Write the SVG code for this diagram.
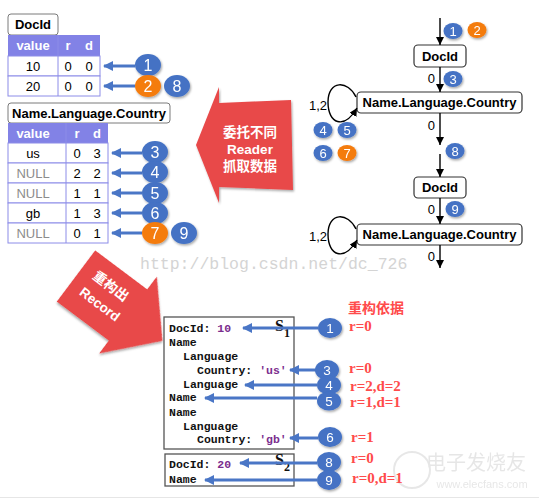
<svg xmlns="http://www.w3.org/2000/svg" width="539" height="499" viewBox="0 0 539 499">
<style>
.lbl{fill:#fff;stroke:#7a7a7a;stroke-width:1}
.lt{font-family:"Liberation Sans",Arial,sans-serif;font-weight:bold;font-size:13px;fill:#000;text-anchor:middle}
.hd{fill:#8282e6}
.ht{font-family:"Liberation Sans",Arial,sans-serif;font-weight:bold;font-size:13px;fill:#fff;text-anchor:middle}
.cell{fill:#fff;stroke:#8c8ce8;stroke-width:1}
.ct{font-family:"Liberation Sans",Arial,sans-serif;font-size:13px;fill:#000;text-anchor:middle}
.nul{fill:#8c8c8c}
.cb{fill:#4472c4}
.co{fill:#f47b10}
.nt{font-family:"Liberation Sans",Arial,sans-serif;font-size:16px;fill:#fff;text-anchor:middle}
.nm{font-family:"Liberation Sans",Arial,sans-serif;font-size:13.5px;fill:#fff;text-anchor:middle}
.ns{font-family:"Liberation Sans",Arial,sans-serif;font-size:13px;fill:#fff;text-anchor:middle}
.ba{stroke:#4a76c6;stroke-width:3;fill:none;marker-end:url(#ab)}
.node{fill:#fff;stroke:#333;stroke-width:1.2}
.ka{stroke:#000;stroke-width:1.4;fill:none;marker-end:url(#ak)}
.gl{font-family:"Liberation Sans",Arial,sans-serif;font-size:13px;fill:#000}
.red{fill:#e8494a}
.rt{font-family:"Liberation Sans","Noto Sans CJK SC",sans-serif;font-weight:bold;font-size:13.5px;fill:#fff;text-anchor:middle}
.rec{fill:#fff;stroke:#555;stroke-width:1.3}
.mono{font-family:"Liberation Mono","Courier New",monospace;font-weight:bold;font-size:11.5px;fill:#111;white-space:pre}
.pu{fill:#7b2d8e}
.rr{font-family:"Liberation Serif","Times New Roman",serif;font-weight:bold;font-size:15px;fill:#ff4b4b}
.s{font-family:"Liberation Serif","Times New Roman",serif;font-weight:bold;fill:#111}
</style>
<defs>
<marker id="ab" markerUnits="userSpaceOnUse" markerWidth="11" markerHeight="10" refX="9" refY="5" orient="auto">
<path d="M0,0 L10,5 L0,10 z" fill="#4a76c6"/>
</marker>
<marker id="ak" markerUnits="userSpaceOnUse" markerWidth="9" markerHeight="8" refX="8" refY="4" orient="auto">
<path d="M0,0 L8,4 L0,8 z" fill="#000"/>
</marker>
<filter id="sh" x="-30%" y="-30%" width="160%" height="160%">
<feDropShadow dx="1" dy="1.5" stdDeviation="1" flood-opacity="0.35"/>
</filter>
</defs>

<!-- watermarks -->
<text x="140" y="269" font-family="Liberation Mono, monospace" font-size="16.5" fill="#d4d4d4">http://blog.csdn.net/dc_726</text>
<g id="elecfans" opacity="0.5">
<circle cx="412" cy="470" r="18" fill="none" stroke="#d0d0d0" stroke-width="2"/>
<text x="476" y="470" font-family="Noto Sans CJK SC, sans-serif" font-size="20" fill="#cfcfcf" text-anchor="middle">电子发烧友</text>
<text x="482" y="488" font-family="Liberation Sans, sans-serif" font-size="11" fill="#cfcfcf" text-anchor="middle">www.elecfans.com</text>
</g>
<line x1="0" y1="497.5" x2="539" y2="497.5" stroke="#e6e6e6" stroke-width="1"/>

<!-- DocId table -->
<g id="docid-table">
<rect class="lbl" x="8" y="14" width="50" height="21" rx="3"/>
<text class="lt" x="33" y="29">DocId</text>
<rect class="hd" x="8" y="35" width="92" height="21"/>
<text class="ht" x="33" y="50">value</text><text class="ht" x="68" y="50">r</text><text class="ht" x="89" y="50">d</text>
<rect class="cell" x="8" y="56" width="92" height="20"/>
<rect class="cell" x="8" y="76" width="92" height="20"/>
<line x1="58" y1="35" x2="58" y2="96" stroke="#8c8ce8"/>
<text class="ct" x="33" y="71">10</text><text class="ct" x="68" y="71">0</text><text class="ct" x="89" y="71">0</text>
<text class="ct" x="33" y="91">20</text><text class="ct" x="68" y="91">0</text><text class="ct" x="89" y="91">0</text>
</g>

<!-- Name.Language.Country table -->
<g id="nlc-table">
<rect class="lbl" x="8" y="103" width="162" height="20" rx="3"/>
<text class="lt" x="89" y="118">Name.Language.Country</text>
<rect class="hd" x="8" y="123" width="100" height="20"/>
<text class="ht" x="33" y="138">value</text><text class="ht" x="77" y="138">r</text><text class="ht" x="97" y="138">d</text>
<rect class="cell" x="8" y="143" width="100" height="20"/>
<rect class="cell" x="8" y="163" width="100" height="20"/>
<rect class="cell" x="8" y="183" width="100" height="20"/>
<rect class="cell" x="8" y="203" width="100" height="20"/>
<rect class="cell" x="8" y="223" width="100" height="20"/>
<line x1="66" y1="123" x2="66" y2="243" stroke="#8c8ce8"/>
<text class="ct" x="33" y="158">us</text><text class="ct" x="77" y="158">0</text><text class="ct" x="97" y="158">3</text>
<text class="ct nul" x="33" y="178">NULL</text><text class="ct" x="77" y="178">2</text><text class="ct" x="97" y="178">2</text>
<text class="ct nul" x="33" y="198">NULL</text><text class="ct" x="77" y="198">1</text><text class="ct" x="97" y="198">1</text>
<text class="ct" x="33" y="218">gb</text><text class="ct" x="77" y="218">1</text><text class="ct" x="97" y="218">3</text>
<text class="ct nul" x="33" y="238">NULL</text><text class="ct" x="77" y="238">0</text><text class="ct" x="97" y="238">1</text>
</g>

<!-- red arrows -->
<g id="delegate-arrow">
<polygon class="red" filter="url(#sh)" points="196,145 219,87 219,103 291,100 293,190 219,187 219,203"/>
<text class="rt" x="250" y="137">委托不同</text>
<text class="rt" x="250" y="154">Reader</text>
<text class="rt" x="250" y="171">抓取数据</text>
</g>
<g id="rebuild-arrow" transform="translate(76,276) rotate(36.87)">
<polygon class="red" filter="url(#sh)" points="0,-32 65,-32 65,-48 108,0 65,48 65,32 0,32"/>
<text class="rt" x="34" y="-8" font-size="12.5">重构出</text>
<text class="rt" x="36" y="13" font-size="14">Record</text>
</g>

<!-- graph nodes -->
<g id="n-docid1">
<rect class="node" x="414" y="45" width="52" height="22" rx="4"/>
<text class="lt" x="440" y="61">DocId</text>
</g>
<g id="n-nlc1">
<rect class="node" x="357" y="92" width="165" height="21" rx="4"/>
<text class="lt" x="439.5" y="107">Name.Language.Country</text>
</g>
<g id="n-docid2">
<rect class="node" x="414" y="177" width="52" height="21" rx="4"/>
<text class="lt" x="440" y="192">DocId</text>
</g>
<g id="n-nlc2">
<rect class="node" x="357" y="224" width="165" height="21" rx="4"/>
<text class="lt" x="439.5" y="239">Name.Language.Country</text>
</g>

<!-- records -->
<g id="record-s1">
<rect class="rec" x="164" y="317" width="130" height="132"/>
<text class="mono" x="169" y="332">DocId: <tspan class="pu">10</tspan></text>
<text class="mono" x="169" y="346">Name</text>
<text class="mono" x="183" y="360">Language</text>
<text class="mono" x="197" y="374">Country: <tspan class="pu">'us'</tspan></text>
<text class="mono" x="183" y="388">Language</text>
<text class="mono" x="169" y="401">Name</text>
<text class="mono" x="169" y="416">Name</text>
<text class="mono" x="183" y="430">Language</text>
<text class="mono" x="197" y="443">Country: <tspan class="pu">'gb'</tspan></text>
<text class="s" x="275" y="331" font-size="16">S</text><text class="s" x="284" y="337" font-size="12">1</text>
</g>
<g id="record-s2">
<rect class="rec" x="165" y="454" width="129" height="32"/>
<text class="mono" x="169" y="468">DocId: <tspan class="pu">20</tspan></text>
<text class="mono" x="169" y="483">Name</text>
<text class="s" x="275" y="465" font-size="16">S</text><text class="s" x="284" y="471" font-size="12">2</text>
</g>

<!-- connectors -->
<g id="connectors">
<line class="ba" x1="135" y1="66" x2="104" y2="66"/>
<line class="ba" x1="135" y1="86" x2="104" y2="86"/>
<line class="ba" x1="142" y1="153" x2="112" y2="153"/>
<line class="ba" x1="142" y1="173" x2="112" y2="173"/>
<line class="ba" x1="142" y1="193" x2="112" y2="193"/>
<line class="ba" x1="142" y1="213" x2="112" y2="213"/>
<line class="ba" x1="142" y1="233" x2="112" y2="233"/>
<line class="ka" x1="440" y1="18" x2="440" y2="45"/>
<line class="ka" x1="440" y1="67" x2="440" y2="92"/>
<path class="ka" d="M356,97 C348,80 328,80 328,102 C328,124 344,130 357,108"/>
<line class="ka" x1="440" y1="113" x2="440" y2="145"/>
<line class="ka" x1="440" y1="154" x2="440" y2="177"/>
<line class="ka" x1="440" y1="198" x2="440" y2="224"/>
<path class="ka" d="M356,229 C348,212 328,212 328,234 C328,256 344,262 357,240"/>
<line class="ka" x1="440" y1="245" x2="440" y2="268"/>
<line class="ba" x1="318" y1="328" x2="243" y2="328"/>
<line class="ba" x1="316" y1="370" x2="290" y2="370"/>
<line class="ba" x1="317" y1="385" x2="245" y2="385"/>
<line class="ba" x1="317" y1="398" x2="205" y2="398"/>
<line class="ba" x1="318" y1="438" x2="290" y2="438"/>
<line class="ba" x1="317" y1="463" x2="240" y2="463"/>
<line class="ba" x1="317" y1="480" x2="205" y2="480"/>
</g>

<!-- edge labels -->
<text class="gl" x="435" y="83" text-anchor="end">0</text>
<text class="gl" x="318" y="110" text-anchor="middle">1,2</text>
<text class="gl" x="435" y="130" text-anchor="end">0</text>
<text class="gl" x="435" y="214" text-anchor="end">0</text>
<text class="gl" x="318" y="241" text-anchor="middle">1,2</text>
<text class="gl" x="435" y="261" text-anchor="end">0</text>

<!-- numbered badges -->
<g id="badges" filter="url(#sh)">
<ellipse class="cb" cx="148" cy="65" rx="13" ry="11"/><text class="nt" x="148" y="71">1</text>
<ellipse class="co" cx="148" cy="86" rx="13" ry="11"/><text class="nt" x="148" y="92">2</text>
<ellipse class="cb" cx="177" cy="86" rx="13" ry="11"/><text class="nt" x="177" y="92">8</text>
<ellipse class="cb" cx="155" cy="152" rx="13" ry="11"/><text class="nt" x="155" y="158">3</text>
<ellipse class="cb" cx="155" cy="172" rx="13" ry="11"/><text class="nt" x="155" y="178">4</text>
<ellipse class="cb" cx="155" cy="193" rx="13" ry="11"/><text class="nt" x="155" y="199">5</text>
<ellipse class="cb" cx="155" cy="213" rx="13" ry="11"/><text class="nt" x="155" y="219">6</text>
<ellipse class="co" cx="155" cy="233" rx="13" ry="11"/><text class="nt" x="155" y="239">7</text>
<ellipse class="cb" cx="184" cy="233" rx="13" ry="11"/><text class="nt" x="184" y="239">9</text>

<ellipse class="cb" cx="453" cy="31" rx="9.5" ry="8"/><text class="ns" x="453" y="36">1</text>
<ellipse class="co" cx="477" cy="30" rx="9.5" ry="8"/><text class="ns" x="477" y="35">2</text>
<ellipse class="cb" cx="453" cy="79" rx="9.5" ry="8"/><text class="ns" x="453" y="84">3</text>
<ellipse class="cb" cx="323" cy="130" rx="9.5" ry="8"/><text class="ns" x="323" y="135">4</text>
<ellipse class="cb" cx="347" cy="130" rx="9.5" ry="8"/><text class="ns" x="347" y="135">5</text>
<ellipse class="cb" cx="323" cy="153" rx="9.5" ry="8"/><text class="ns" x="323" y="158">6</text>
<ellipse class="co" cx="347" cy="153" rx="9.5" ry="8"/><text class="ns" x="347" y="158">7</text>
<ellipse class="cb" cx="455" cy="151" rx="9.5" ry="8"/><text class="ns" x="455" y="156">8</text>
<ellipse class="cb" cx="455" cy="209" rx="9.5" ry="8"/><text class="ns" x="455" y="214">9</text>

<ellipse class="cb" cx="330" cy="328" rx="12" ry="10"/><text class="nm" x="330" y="333">1</text>
<ellipse class="cb" cx="327" cy="370" rx="12" ry="10"/><text class="nm" x="327" y="375">3</text>
<ellipse class="cb" cx="329" cy="385" rx="12" ry="9.5"/><text class="nm" x="329" y="390">4</text>
<ellipse class="cb" cx="329" cy="401" rx="12" ry="9.5"/><text class="nm" x="329" y="406">5</text>
<ellipse class="cb" cx="330" cy="437" rx="12" ry="10"/><text class="nm" x="330" y="442">6</text>
<ellipse class="cb" cx="329" cy="462" rx="12" ry="10"/><text class="nm" x="329" y="467">8</text>
<ellipse class="cb" cx="329" cy="480" rx="12" ry="10"/><text class="nm" x="329" y="485">9</text>
</g>

<!-- rebuild basis labels -->
<g id="basis">
<text x="348" y="313" font-family="Noto Sans CJK SC, sans-serif" font-weight="bold" font-size="14" fill="#ff4b4b">重构依据</text>
<text class="rr" x="349" y="331">r=0</text>
<text class="rr" x="349" y="373">r=0</text>
<text class="rr" x="350" y="391">r=2,d=2</text>
<text class="rr" x="350" y="407">r=1,d=1</text>
<text class="rr" x="351" y="442">r=1</text>
<text class="rr" x="351" y="463">r=0</text>
<text class="rr" x="352" y="483">r=0,d=1</text>
</g>
</svg>
